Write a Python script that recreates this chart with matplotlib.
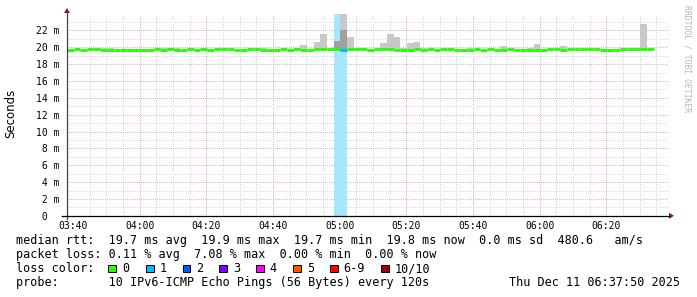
import matplotlib
matplotlib.use("Agg")
import matplotlib.pyplot as plt
from matplotlib.patches import Rectangle
from matplotlib.lines import Line2D

# time axis: minutes since midnight, one value every 120 s
start_min = 218.2
step_min = 2.0

median_ms = [
    19.7, 19.8, 19.7, 19.8, 19.8, 19.7, 19.7, 19.7, 19.7, 19.7, 19.7,
    19.7, 19.7, 19.8, 19.7, 19.8, 19.7, 19.7, 19.8, 19.7, 19.8, 19.7,
    19.8, 19.8, 19.8, 19.7, 19.7, 19.8, 19.8, 19.7, 19.7, 19.7, 19.8,
    19.7, 19.8, 19.7, 19.7, 19.8, 19.8, 19.8, 19.8, 19.7, 19.8, 19.8,
    19.8, 19.7, 19.8, 19.8, 19.8, 19.7, 19.7, 19.7, 19.8, 19.7, 19.8,
    19.7, 19.8, 19.8, 19.7, 19.7, 19.7, 19.8, 19.7, 19.8, 19.7, 19.7,
    19.8, 19.7, 19.7, 19.7, 19.7, 19.7, 19.8, 19.8, 19.7, 19.8, 19.8,
    19.8, 19.8, 19.8, 19.7, 19.7, 19.7, 19.8, 19.8, 19.8, 19.8, 19.8,
]
# loss count per step (out of 10 pings)
loss_steps = [41]
loss_values = [1]
band_steps = [40, 41]

# light smoke (spread of the 10 pings)
smoke_steps = [5, 6, 14, 15, 16, 29, 34, 35, 37, 38, 41, 42, 43, 44, 47, 48, 49,
               50, 51, 52, 53, 60, 65, 69, 70, 74, 85, 86]
smoke_low = [19.7, 19.7, 19.7, 19.7, 19.7, 19.7, 19.7, 19.7, 19.7, 19.7, 19.65, 19.65,
             19.7, 19.7, 19.7, 19.7, 19.7, 19.7, 19.7, 19.7, 19.7, 19.7, 19.7, 19.7,
             19.7, 19.7, 19.7, 19.7]
smoke_high = [19.95, 19.95, 19.9, 19.95, 19.9, 19.9, 19.9, 20.25, 20.6, 21.6, 24.0, 21.2,
              19.85, 19.85, 20.5, 21.6, 21.2, 19.85, 20.5, 20.6, 19.85, 19.9, 20.1,
              19.95, 20.4, 20.1, 19.9, 22.75]
# darker inner smoke
dark_steps = [40, 41]
dark_low = [19.75, 19.65]
dark_high = [20.7, 22.0]

loss_colors = ['#26ff00', '#00b8ff', '#0059ff', '#7e00ff', '#ff00ff',
               '#ff5500', '#ff0000', '#a10000']
loss_labels = ['0', '1', '2', '3', '4', '5', '6-9', '10/10']

W, H = 697, 297
fig = plt.figure(figsize=(W / 100, H / 100), dpi=100)
fig.patch.set_facecolor('white')

def fx(px):
    return px / W

def fy(py):
    return 1 - py / H

ax = fig.add_axes([fx(67), fy(215.8), fx(668) - fx(67), fy(13.5) - fy(215.8)])
xmin, xmax = 218.2, 398.5
ax.set_xlim(xmin, xmax)
ax.set_ylim(0, 24.0)
for s in ax.spines.values():
    s.set_visible(False)

mono = 'DejaVu Sans Mono'

# grid
for m in range(225, 400, 5):
    major = (m % 20 == 0)
    ax.axvline(m, color='#f0b4b4' if major else '#d9d9d9', lw=0.72,
               ls=(0, (1, 2)), zorder=0, antialiased=False)
for v in range(1, 24):
    major = (v % 2 == 0)
    ax.axhline(v, color='#f0b4b4' if major else '#d9d9d9', lw=0.72,
               ls=(0, (1, 2)), zorder=0, antialiased=False)

times = [start_min + step_min * i for i in range(len(median_ms))]

# loss background band
for i in band_steps:
    ax.axvspan(times[i], times[i] + step_min, color='#a6e6ff', lw=0, zorder=1)

# smoke
for i, lo, hi in zip(smoke_steps, smoke_low, smoke_high):
    ax.bar(times[i], hi - lo, bottom=lo, width=step_min, align='edge',
           color='#c8c8c8', lw=0, zorder=2)
for i, lo, hi in zip(dark_steps, dark_low, dark_high):
    ax.bar(times[i], hi - lo, bottom=lo, width=step_min, align='edge',
           color='#a0a0a0', lw=0, zorder=3)

# median line coloured by loss
for i, v in enumerate(median_ms):
    c = loss_colors[0]
    if i in loss_steps:
        c = loss_colors[loss_values[loss_steps.index(i)]]
    ax.hlines(v, times[i], times[i] + step_min, color=c, lw=2.1, zorder=4)

# ticks
xt = list(range(220, 381, 20))
ax.set_xticks(xt)
ax.set_xticklabels([f"{m // 60:02d}:{m % 60:02d}" for m in xt], fontfamily=mono, fontsize=7)
yt = list(range(0, 23, 2))
ax.set_yticks(yt)
ax.set_yticklabels([f"{v:2d} m" if v else " 0  " for v in yt], fontfamily=mono, fontsize=7)
for lab in ax.get_yticklabels():
    lab.set_horizontalalignment('left')
ax.tick_params(axis='y', length=0, pad=22.5)
ax.tick_params(axis='x', length=0, pad=3.5)

# axes with arrows
fig.add_artist(Line2D([fx(67), fx(67)], [fy(219), fy(12)], color='#404040', lw=0.9))
fig.add_artist(Line2D([fx(62), fx(670)], [fy(215.8), fy(215.8)], color='black', lw=0.9))
fig.add_artist(plt.Polygon([[fx(64), fy(13)], [fx(70), fy(13)], [fx(67), fy(8)]],
                           closed=True, color='#8b1a1a', lw=0))
fig.add_artist(plt.Polygon([[fx(669), fy(212.8)], [fx(669), fy(218.8)], [fx(674), fy(215.8)]],
                           closed=True, color='#8b1a1a', lw=0))

fig.text(fx(11), fy(113.5), 'Seconds', rotation=90, ha='center', va='center',
         fontsize=8.5, fontfamily='DejaVu Sans')
fig.text(fx(687), fy(5), 'RRDTOOL / TOBI OETIKER', rotation=-90, ha='center', va='top',
         fontsize=5.8, fontfamily=mono, color='#b4b4b4')

# legend text
fs = 8.5
fig.text(fx(16), fy(244), 'median rtt:  19.7 ms avg  19.9 ms max  19.7 ms min  19.8 ms now  0.0 ms sd  480.6   am/s',
         fontfamily=mono, fontsize=fs, va='baseline')
fig.text(fx(16), fy(258.2), 'packet loss: 0.11 % avg  7.08 % max  0.00 % min  0.00 % now',
         fontfamily=mono, fontsize=fs, va='baseline')
fig.text(fx(16), fy(272.3), 'loss color:', fontfamily=mono, fontsize=fs, va='baseline')
box_x = [108.3, 146, 182.7, 219.3, 256, 293.3, 330, 381]
for bx, col, lab in zip(box_x, loss_colors, loss_labels):
    fig.add_artist(Rectangle((fx(bx), fy(272)), fx(7.5), 7.5 / H, facecolor=col,
                             edgecolor='black', lw=0.7))
    fig.text(fx(bx + 13.5), fy(272.3), lab, fontfamily=mono, fontsize=fs, va='baseline')
fig.text(fx(16), fy(286.4), 'probe:       10 IPv6-ICMP Echo Pings (56 Bytes) every 120s',
         fontfamily=mono, fontsize=fs, va='baseline')
fig.text(fx(680), fy(286.4), 'Thu Dec 11 06:37:50 2025', fontfamily=mono, fontsize=fs,
         va='baseline', ha='right')

fig.savefig('out.png', dpi=100)
